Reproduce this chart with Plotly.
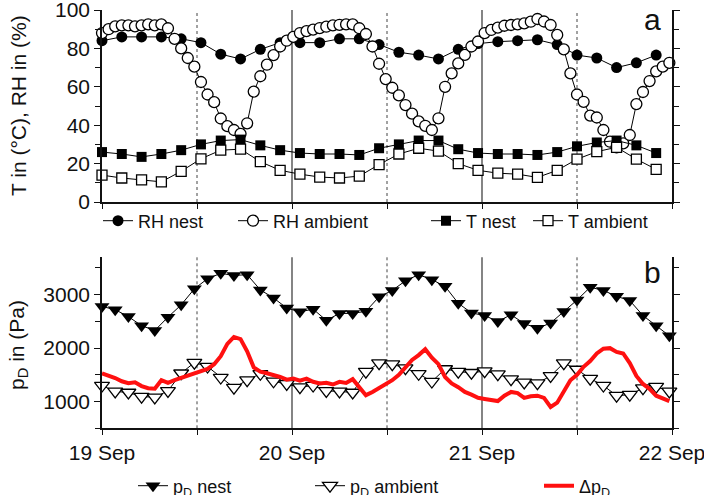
import plotly.graph_objects as go
import pandas as pd

START = "2000-09-19 00:00"

# ---- panel a: every 150 min ----
rh_nest = [84, 86, 86, 86, 85, 83, 77, 74.5, 79.5, 83, 83, 83, 85, 85, 82, 78, 76.5, 74.5,
           79.5, 82.5, 83.5, 84, 84.5, 82, 76.5, 75, 70, 72.5, 76.5]
t_nest = [26, 25, 23.5, 25, 27, 30, 32, 32.5, 29.5, 27, 25.5, 25, 25, 24.5, 28, 30, 32, 32,
          27.5, 25.5, 25, 25, 24.5, 26, 29, 31, 32, 29.5, 25.5]
t_amb = [14, 12.5, 11.5, 10.5, 16, 22.5, 27, 27.5, 21, 16.5, 14.5, 13, 12.5, 13.5, 19.5, 25,
         28, 26.5, 20, 16.5, 15, 14.5, 12.8, 16.5, 22.3, 26.2, 28.5, 22.3, 17]
# ---- panel a: every 50 min ----
rh_amb = [88, 90, 91.5, 92, 92, 91.5, 92, 92.5, 92, 92.5, 90.5, 85, 80, 75, 70.5, 62.5, 56,
          52, 43.5, 39.5, 37.5, 35.5, 41, 57.5, 65.5, 71.5, 76.5, 81, 84, 86, 88, 89, 89.8,
          90.6, 91.3, 92, 92.3, 92.5, 92.5, 90.5, 87.5, 81, 72, 64, 59.5, 55.5, 50.5, 46, 42,
          39.7, 37.5, 43.6, 60, 67, 72.2, 76.6, 81, 83.6, 88, 89.6, 90.8, 91.8, 92.2, 92.5, 93,
          93.9, 95.3, 94, 92.2, 87, 79.5, 67, 56, 52.2, 45, 44, 37.5, 31.4, 28.5, 30.5, 34.9,
          51, 57.3, 63, 68, 70.5, 72.5]
# ---- panel b: every 100 min ----
pd_nest = [2780, 2720, 2590, 2420, 2330, 2580, 2810, 3110, 3300, 3400, 3360, 3375, 3090, 2940,
           2750, 2680, 2730, 2520, 2650, 2650, 2690, 2960, 3080, 3260, 3375, 3282, 3157, 2840,
           2660, 2610, 2500, 2625, 2460, 2370, 2470, 2685, 2900, 3140, 3080, 2970, 2890, 2610,
           2420, 2230]
pd_amb = [1300, 1190, 1170, 1094, 1080, 1200, 1530, 1730, 1656, 1450, 1260, 1400, 1520, 1380,
          1330, 1270, 1300, 1200, 1190, 1170, 1560, 1719, 1700, 1625, 1520, 1375, 1610, 1560,
          1540, 1570, 1515, 1420, 1360, 1344, 1480, 1720, 1600, 1430, 1300, 1110, 1130, 1250,
          1280, 1190]
# ---- panel b: every 50 min ----
dpd = [1530, 1490, 1440, 1380, 1345, 1360, 1290, 1250, 1240, 1400, 1350, 1400, 1440, 1480, 1530,
       1570, 1610, 1700, 1850, 2080, 2210, 2170, 1940, 1640, 1560, 1530, 1500, 1460, 1410, 1430,
       1390, 1430, 1370, 1340, 1350, 1320, 1370, 1350, 1420, 1280, 1120, 1180, 1250, 1320, 1400,
       1500, 1630, 1780, 1870, 1980, 1820, 1700, 1460, 1340, 1270, 1180, 1130, 1070, 1050, 1030,
       1010, 1110, 1180, 1160, 1070, 1100, 1110, 1070, 900, 980, 1200, 1400, 1500, 1650, 1760,
       1900, 1990, 2000, 1930, 1900, 1720, 1480, 1330, 1240, 1110, 1050, 1010]

day_ticks = ["2000-09-19", "2000-09-19 12:00", "2000-09-20", "2000-09-20 12:00",
             "2000-09-21", "2000-09-21 12:00", "2000-09-22"]
day_labels = ["19 Sep", "", "20 Sep", "", "21 Sep", "", "22 Sep"]
noon_lines = ["2000-09-19 12:00", "2000-09-20 12:00", "2000-09-21 12:00"]
day_lines = ["2000-09-20", "2000-09-21"]

t150 = pd.date_range(START, periods=len(rh_nest), freq="150min")
t50 = pd.date_range(START, periods=len(rh_amb), freq="50min")
t100 = pd.date_range(START, periods=len(pd_nest), freq="100min")

W, H = 704, 495
FONT = "Liberation Sans, Arial, sans-serif"

fig = go.Figure()
blk = "black"
fig.add_trace(go.Scatter(x=t150, y=rh_nest, mode="lines+markers", name="RH nest",
                         line=dict(color=blk, width=1), cliponaxis=False,
                         marker=dict(symbol="circle", size=11, color=blk),
                         xaxis="x", yaxis="y", legend="legend"))
fig.add_trace(go.Scatter(x=t50, y=rh_amb, mode="lines+markers", name="RH ambient",
                         line=dict(color=blk, width=1), cliponaxis=False,
                         marker=dict(symbol="circle", size=11, color="white",
                                     line=dict(color=blk, width=1.3)),
                         xaxis="x", yaxis="y", legend="legend2"))
fig.add_trace(go.Scatter(x=t150, y=t_nest, mode="lines+markers", name="T nest",
                         line=dict(color=blk, width=1), cliponaxis=False,
                         marker=dict(symbol="square", size=10, color=blk),
                         xaxis="x", yaxis="y", legend="legend3"))
fig.add_trace(go.Scatter(x=t150, y=t_amb, mode="lines+markers", name="T ambient",
                         line=dict(color=blk, width=1), cliponaxis=False,
                         marker=dict(symbol="square", size=10, color="white",
                                     line=dict(color=blk, width=1.3)),
                         xaxis="x", yaxis="y", legend="legend4"))
fig.add_trace(go.Scatter(x=t100, y=pd_nest, mode="lines+markers", name="p<sub>D</sub> nest",
                         line=dict(color=blk, width=1), cliponaxis=False,
                         marker=dict(symbol="triangle-down", size=13, color=blk),
                         xaxis="x2", yaxis="y2", legend="legend5"))
fig.add_trace(go.Scatter(x=t100, y=pd_amb, mode="lines+markers", name="p<sub>D</sub> ambient",
                         line=dict(color=blk, width=1), cliponaxis=False,
                         marker=dict(symbol="triangle-down", size=13, color="white",
                                     line=dict(color=blk, width=1.3)),
                         xaxis="x2", yaxis="y2", legend="legend6"))
fig.add_trace(go.Scatter(x=t50, y=dpd, mode="lines", name="Δp<sub>D</sub>",
                         line=dict(color="#ff1010", width=4), cliponaxis=False,
                         xaxis="x2", yaxis="y2", legend="legend7"))

XD = [102 / W, 672 / W]
ax_common = dict(showline=True, linecolor="#111", linewidth=1.5, showgrid=False,
                 zeroline=False, ticks="outside", tickcolor="#111", tickwidth=1.2,
                 ticklabeloverflow="allow")

fig.update_layout(
    width=W, height=H,
    margin=dict(l=0, r=0, t=0, b=0, autoexpand=False),
    paper_bgcolor="white", plot_bgcolor="white",
    showlegend=True,
    font=dict(family=FONT, size=21, color="#111"),
    xaxis=dict(domain=XD, anchor="y", type="date", range=[day_ticks[0], day_ticks[-1]],
               tickvals=day_ticks, ticktext=day_labels, showticklabels=False,
               ticklen=5, **ax_common),
    xaxis2=dict(domain=XD, anchor="y2", type="date", range=[day_ticks[0], day_ticks[-1]],
                tickvals=day_ticks, ticktext=day_labels, ticklen=5, ticklabelstandoff=0,
                tickfont=dict(size=21), **ax_common),
    yaxis=dict(domain=[1 - 202 / H, 1 - 10 / H], anchor="x", range=[0, 100],
               tickvals=[0, 20, 40, 60, 80, 100], ticklen=6, mirror="ticks",
               minor=dict(dtick=10, ticks="outside", ticklen=5, tickcolor="#111"),
               tickfont=dict(size=21), **ax_common),
    yaxis2=dict(domain=[1 - 428.3 / H, 1 - 257.3 / H], anchor="x2", range=[500, 3700],
                tickvals=[1000, 2000, 3000], ticklen=6, mirror="ticks",
                minor=dict(dtick=500, ticks="outside", ticklen=5, tickcolor="#111"),
                tickfont=dict(size=21), **ax_common),
)

# vertical reference lines
shapes = []
for yref in ["y domain", "y2 domain"]:
    xref = "x" if yref.startswith("y ") else "x2"
    for d in noon_lines:
        shapes.append(dict(type="line", xref=xref, yref=yref, x0=d, x1=d, y0=0, y1=1,
                           line=dict(color="#444", width=1, dash="dot"), layer="below"))
    for d in day_lines:
        shapes.append(dict(type="line", xref=xref, yref=yref, x0=d, x1=d, y0=0, y1=1,
                           line=dict(color="#333", width=1.2), layer="below"))
fig.update_layout(shapes=shapes)

# legends (one entry each)
def leg(xc, yc):
    return dict(x=(xc - 20) / W, y=1 - yc / H, xanchor="left", yanchor="middle",
                orientation="h", bgcolor="rgba(0,0,0,0)", font=dict(size=18),
                borderwidth=0, visible=True)

top_y = 221
bot_y = 486
fig.update_layout(
    legend=leg(118, top_y), legend2=leg(253, top_y), legend3=leg(446, top_y),
    legend4=leg(548, top_y), legend5=leg(153, bot_y), legend6=leg(330, bot_y),
    legend7=leg(559, bot_y),
)

ann = dict(xref="paper", yref="paper", showarrow=False, xanchor="center", yanchor="middle")
fig.add_annotation(text="T in (°C), RH in (%)", x=18 / W, y=1 - 106 / H, textangle=-90,
                   font=dict(size=21), **ann)
fig.add_annotation(text="p<sub>D</sub> in (Pa)", x=18 / W, y=1 - 345 / H, textangle=-90,
                   font=dict(size=21), **ann)
fig.add_annotation(text="a", x=652 / W, y=1 - 19 / H, font=dict(size=30), **ann)
fig.add_annotation(text="b", x=652 / W, y=1 - 272 / H, font=dict(size=30), **ann)

fig.write_html("out.html")
